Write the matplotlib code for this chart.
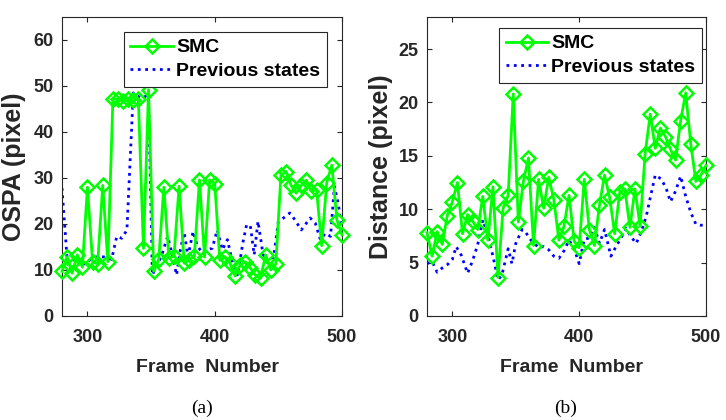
import matplotlib
matplotlib.use("Agg")
import matplotlib.pyplot as plt
import numpy as np

# ---------------- data ----------------
smc_frames = list(range(280, 501, 4))

ospa_smc = [9.7, 12.9, 9.3, 13.3, 10.6, 28.0, 11.8, 11.3, 28.4, 11.8,
            47.2, 47.1, 46.7, 47.2, 46.9, 47.1, 14.7, 49.2, 9.7, 12.3,
            28.0, 12.6, 13.0, 28.2, 11.5, 12.2, 13.1, 29.6, 12.8, 29.6,
            28.8, 12.1, 12.9, 11.5, 8.7, 11.1, 11.8, 10.4, 8.9, 8.2,
            13.3, 10.0, 11.3, 30.6, 31.4, 28.4, 26.7, 28.4, 29.5, 27.1,
            27.5, 15.3, 29.0, 32.8, 20.9, 17.6]

ospa_prev_frames = [280, 284, 286, 289, 292, 295, 298, 302, 306, 310, 315, 319,
                    323, 327, 331, 336, 339, 343, 346, 348, 351, 354, 358, 363,
                    367, 370, 373, 376, 379, 383, 386, 390, 394, 398, 402, 406,
                    410, 414, 418, 422, 425, 428, 431, 434, 438, 442, 446, 450,
                    454, 459, 463, 468, 475, 479, 483, 487, 491, 494, 497, 500]
ospa_prev = [27.8, 12.5, 10.4, 11.8, 12.9, 11.5, 11.3, 12.2, 12.8, 12.9, 12.8, 12.3,
             17.3, 16.9, 18.7, 48.5, 47.8, 47.4, 47.8, 47.5, 8.9, 10.7, 12.9, 17.3,
             12.9, 8.9, 14.4, 18.2, 12.9, 18.4, 15.5, 13.7, 14.4, 14.7, 18.7, 14.4,
             16.6, 11.5, 8.7, 15.8, 19.8, 19.6, 13.3, 20.6, 13.3, 11.8, 12.2, 20.6,
             21.3, 22.4, 20.9, 18.7, 21.3, 20.2, 16.6, 18.0, 17.3, 28.2, 24.5, 18.7]

dist_smc = [7.8, 5.6, 7.9, 6.7, 9.4, 10.7, 12.5, 7.7, 9.5, 8.9,
            8.1, 11.2, 7.1, 12.1, 3.6, 10.1, 11.3, 20.8, 8.8, 12.6,
            14.8, 6.6, 12.8, 10.1, 13.0, 10.9, 7.1, 8.4, 11.3, 7.0,
            6.4, 12.8, 8.1, 6.6, 10.4, 13.2, 11.1, 7.7, 11.6, 11.9,
            8.3, 11.9, 8.4, 15.2, 18.9, 15.7, 17.6, 16.8, 15.6, 14.6,
            18.3, 20.9, 16.1, 12.6, 13.2, 14.1]

dist_prev_frames = [280, 284, 288, 292, 296, 300, 303, 307, 312, 316, 320, 324,
                    328, 332, 336, 339, 344, 347, 350, 355, 358, 362, 368, 372,
                    376, 380, 384, 388, 392, 396, 400, 404, 408, 412, 416, 420,
                    425, 429, 433, 437, 441, 445, 449, 453, 457, 460, 465, 469,
                    472, 476, 480, 484, 488, 492, 496, 500]
dist_prev = [4.9, 5.1, 4.1, 4.5, 4.8, 5.3, 6.5, 5.7, 4.0, 5.2, 6.7, 9.0,
             7.6, 5.6, 3.4, 3.8, 6.3, 4.9, 6.8, 8.1, 7.8, 7.1, 6.4, 6.5,
             6.2, 5.6, 5.4, 6.1, 7.1, 6.3, 4.9, 7.2, 7.3, 8.3, 6.8, 8.1,
             5.6, 6.5, 7.3, 8.2, 7.4, 6.8, 7.9, 9.4, 11.6, 13.2, 12.8, 11.8,
             10.7, 11.7, 13.1, 11.2, 9.7, 8.6, 8.5, 8.5]

x_ticks = [300, 400, 500]
ospa_yticks = [0, 10, 20, 30, 40, 50, 60]
dist_yticks = [0, 5, 10, 15, 20, 25]

labels = ["SMC", "Previous states"]
xlabel = "Frame  Number"
ylabels = ["OSPA (pixel)", "Distance (pixel)"]
captions = ["(a)", "(b)"]

# ---------------- figure ----------------
plt.rcParams['font.family'] = ['Liberation Sans', 'DejaVu Sans']
plt.rcParams['font.weight'] = 'bold'

W, H = 726, 420
fig = plt.figure(figsize=(W / 100, H / 100), dpi=100)

def px_axes(x0, y0, x1, y1):
    return fig.add_axes([x0 / W, 1 - y1 / H, (x1 - x0) / W, (y1 - y0) / H])

ax1 = px_axes(62, 17, 342, 316)
ax2 = px_axes(427, 17, 706, 316)

green = '#00ff00'
blue = '#0000ff'
axcol = '#262626'

panels = [
    (ax1, ospa_smc, ospa_prev_frames, ospa_prev, (0, 65), ospa_yticks, (0.946, 0.95), 207, 14),
    (ax2, dist_smc, dist_prev_frames, dist_prev, (0, 28), dist_yticks, (0.986, 0.963), 571.5, 381),
]

for k, (ax, smc, pf, pv, ylim, yt, anchor, xc, ylx) in enumerate(panels):
    ax.plot(smc_frames, smc, color=green, lw=2.0, marker='D', ms=7,
            mfc='none', mec=green, mew=1.8, label=labels[0], clip_on=False, zorder=3)
    ax.plot(pf, pv, color=blue, lw=2.0, ls=':', label=labels[1], zorder=2)
    ax.set_xlim(280, 500)
    ax.set_ylim(*ylim)
    ax.set_xticks(x_ticks)
    ax.set_yticks(yt)
    ax.tick_params(direction='in', top=True, right=True, length=3.5, width=0.8,
                   colors=axcol, labelsize=13, labelcolor=axcol)
    ax.tick_params(axis='x', pad=9)
    ax.tick_params(axis='y', pad=6)
    for lab in ax.get_xticklabels() + ax.get_yticklabels():
        lab.set_fontweight('bold')
    for s in ax.spines.values():
        s.set_color(axcol)
        s.set_linewidth(0.8)
    fig.text(xc / W, 1 - 367 / H, xlabel, ha='center', va='center',
             fontsize=14, fontweight='bold', color=axcol)
    fig.text(ylx / W, 1 - 166.5 / H, ylabels[k], ha='center', va='center',
             rotation=90, fontsize=18, fontweight='bold', color=axcol)
    leg = ax.legend(loc='upper right', bbox_to_anchor=anchor, borderaxespad=0,
                    fancybox=False, framealpha=1, edgecolor=axcol,
                    prop={'size': 14, 'weight': 'bold'}, handlelength=2.2,
                    handletextpad=0.15, labelspacing=0.3, borderpad=0.35)
    leg.get_frame().set_linewidth(0.8)

fig.text(202 / W, 1 - 408 / H, captions[0], ha='center', va='center',
         fontsize=14, family='Liberation Serif', fontweight='normal')
fig.text(566 / W, 1 - 408 / H, captions[1], ha='center', va='center',
         fontsize=14, family='Liberation Serif', fontweight='normal')

fig.savefig('out.png', dpi=100)
